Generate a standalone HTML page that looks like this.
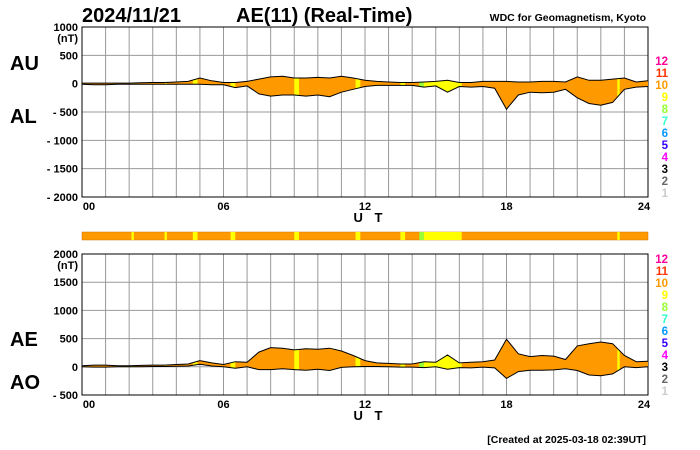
<!DOCTYPE html>
<html><head><meta charset="utf-8"><style>
body{margin:0;background:#fff;}
svg{display:block;font-family:"Liberation Sans",sans-serif;}
</style></head><body>
<svg id="c" width="700" height="450" viewBox="0 0 700 450">
<text x="82" y="22" font-size="20" font-weight="bold">2024/11/21</text>
<text x="236" y="22" font-size="20" font-weight="bold">AE(11) (Real-Time)</text>
<text x="646" y="21" font-size="10.5" font-weight="bold" text-anchor="end">WDC for Geomagnetism, Kyoto</text>
<text x="10" y="70" font-size="20" font-weight="bold">AU</text>
<text x="10" y="123" font-size="20" font-weight="bold">AL</text>
<text x="10" y="346" font-size="20" font-weight="bold">AE</text>
<text x="10" y="389" font-size="20" font-weight="bold">AO</text>
<text x="646" y="443" font-size="10.5" font-weight="bold" text-anchor="end">[Created at 2025-03-18 02:39UT]</text>
<g id="top"></g><g id="strip"></g><g id="bot"></g><g id="leg"></g>
</svg>
<script>
const hours=[0,0.5,1,1.5,2,2.5,3,3.5,4,4.5,5,5.5,6,6.5,7,7.5,8,8.5,9,9.5,10,10.5,11,11.5,12,12.5,13,13.5,14,14.5,15,15.5,16,16.5,17,17.5,18,18.5,19,19.5,20,20.5,21,21.5,22,22.5,23,23.5,24];
const au=[10,10,10,10,10,15,20,20,30,40,100,50,20,20,40,80,120,130,100,100,110,100,130,100,60,40,30,20,20,30,40,60,20,20,40,40,40,30,30,40,40,30,120,60,60,80,100,30,50];
const al=[-10,-20,-20,-10,-10,-10,-10,-10,-10,-10,-10,-20,-20,-70,-40,-180,-220,-200,-200,-220,-200,-230,-150,-100,-50,-30,-30,-30,-30,-60,-40,-150,-50,-60,-50,-80,-450,-200,-150,-160,-150,-100,-250,-350,-380,-330,-100,-60,-50];
const segStart=[2.1,3.5,4.7,6.3,9.0,11.6,13.5,14.3,14.5,22.7];
const segEnd=[2.2,3.6,4.9,6.5,9.2,11.8,13.7,14.5,16.1,22.8];
const segColor=["#ffff00","#ffff00","#ffff00","#ffff00","#ffff00","#ffff00","#ffff00","#99ff33","#ffff00","#ffff00"];
const topTicks=[1000,500,0,-500,-1000,-1500,-2000];
const botTicks=[2000,1500,1000,500,0,-500];
const xTicks=[0,6,12,18,24];
const xTickLabels=["00","06","12","18","24"];
const legNums=["12","11","10","9","8","7","6","5","4","3","2","1"];
const legColors=["#ff0099","#ff3300","#ff9900","#ffff00","#99ff33","#33ffcc","#0099ff","#3300ff","#ff00ff","#000000","#666666","#cccccc"];
const NS="http://www.w3.org/2000/svg";
const X0=82,X1=648;
const xs=h=>X0+(X1-X0)*h/24;
function mk(p,tag,a){const e=document.createElementNS(NS,tag);for(const k in a)e.setAttribute(k,a[k]);p.appendChild(e);return e;}
function panel(g,id,yTop,yBot,vMax,vMin,ticks,up,lo){
  const ys=v=>yTop+(vMax-v)*(yBot-yTop)/(vMax-vMin);
  for(let h=0;h<=24;h++){const l=mk(g,'line',{x1:xs(h),x2:xs(h),y1:yTop,y2:yBot,stroke:'#999','stroke-width':1});
    
    }
  ticks.forEach((t,i)=>{const l=mk(g,'line',{x1:X0,x2:X1,y1:ys(t),y2:ys(t),stroke:'#999','stroke-width':1});
    
    
    const tx=mk(g,'text',{x:X0-4,y:ys(t)+4,'font-size':11,'font-weight':'bold','text-anchor':'end'});
    tx.textContent=t<0?'- '+(-t):String(t);
    
    
    if(i===0){const u=mk(g,'text',{x:X0-4,y:ys(t)+15,'font-size':11,'font-weight':'bold','text-anchor':'end'});u.textContent='(nT)';
      
      }
  });
  const box=mk(g,'rect',{x:X0,y:yTop,width:X1-X0,height:yBot-yTop,fill:'none',stroke:'#000','stroke-width':1});
  
  
  xTicks.forEach((h,i)=>{const t=mk(g,'text',{x:xs(h)+(i==0?7:i==4?-4:0),y:yBot+13,'font-size':11,'font-weight':'bold','text-anchor':'middle'});t.textContent=xTickLabels[i];
    
    });
  const ut=mk(g,'text',{x:xs(12)+5,y:yBot+25,'font-size':13,'font-weight':'bold','text-anchor':'middle','letter-spacing':'4'});ut.textContent='U T';
  
  
  let d='';hours.forEach((h,i)=>{d+=(i?'L':'M')+xs(h).toFixed(1)+','+ys(up[i]).toFixed(1);});
  for(let i=hours.length-1;i>=0;i--)d+='L'+xs(hours[i]).toFixed(1)+','+ys(lo[i]).toFixed(1);d+='Z';
  const cp=mk(g,'clipPath',{id:'cp'+id});mk(cp,'path',{d:d});
  const area=mk(g,'path',{d:d,fill:'#ff9900',stroke:'none'});
  
  
  segStart.forEach((s,i)=>{const r=mk(g,'rect',{x:xs(s),y:yTop,width:xs(segEnd[i])-xs(s),height:yBot-yTop,fill:segColor[i],'clip-path':'url(#cp'+id+')'});
    
    });
  let du='',dl='';hours.forEach((h,i)=>{du+=(i?'L':'M')+xs(h).toFixed(1)+','+ys(up[i]).toFixed(1);dl+=(i?'L':'M')+xs(h).toFixed(1)+','+ys(lo[i]).toFixed(1);});
  const l1=mk(g,'path',{d:du,fill:'none',stroke:'#000','stroke-width':1});
  
  
  const l2=mk(g,'path',{d:dl,fill:'none',stroke:'#000','stroke-width':1});
  
  
}
const ae=au.map((v,i)=>v-al[i]);
const ao=au.map((v,i)=>(v+al[i])/2);
panel(document.getElementById('top'),'t',27,197,1000,-2000,topTicks,au,al);
panel(document.getElementById('bot'),'b',254,395,2000,-500,botTicks,ae,ao);
const st=document.getElementById('strip');
const sb=mk(st,'rect',{x:X0,y:232,width:X1-X0,height:8,fill:'#ff9900',stroke:'#cc7700','stroke-width':0.5});


segStart.forEach((s,i)=>{const r=mk(st,'rect',{x:xs(s),y:232,width:xs(segEnd[i])-xs(s),height:8,fill:segColor[i]});
  
  });
const lg=document.getElementById('leg');
[65,263].forEach(y0=>{legNums.forEach((n,i)=>{const t=mk(lg,'text',{x:668,y:y0+12*i,'font-size':11.5,'font-weight':'bold','text-anchor':'end',fill:legColors[i]});t.textContent=n;
  
  });});
</script>
</body></html>
